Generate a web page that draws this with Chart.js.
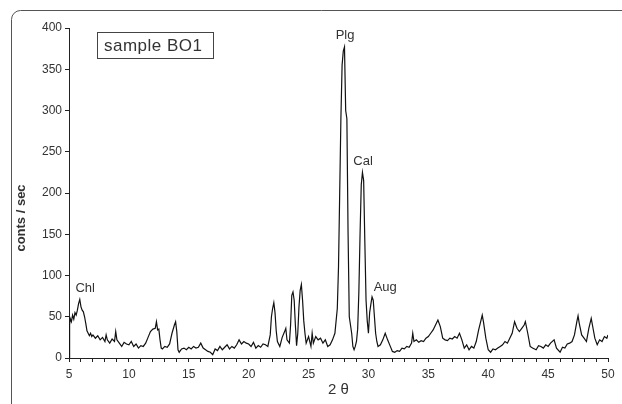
<!doctype html>
<html>
<head>
    <meta charset="UTF-8"/>
    <title>XRD sample BO1</title>
    <script src="https://cdn.jsdelivr.net/npm/chart.js@4.4.1/dist/chart.umd.min.js"></script>
</head>
<body style="margin: 0; background: #fff;">
<canvas id="myChart" width="622" height="404"></canvas>

<script>
    // 2 theta positions (degrees) and intensities
    const twoTheta = [
        5.0, 5.05, 5.1, 5.2, 5.3, 5.4, 5.5, 5.6, 5.7, 5.8, 5.9, 6.0, 6.1, 6.2, 6.3, 6.4, 6.5, 6.6, 6.7, 6.8, 6.9,
        7.0, 7.2, 7.4, 7.6, 7.8, 8.0, 8.1, 8.2, 8.4, 8.6, 8.8, 8.9, 9.0, 9.2, 9.4, 9.6, 9.8,
        10.0, 10.2, 10.4, 10.6, 10.8, 11.0, 11.2, 11.4, 11.6, 11.8, 12.0, 12.2, 12.3, 12.4, 12.5, 12.6, 12.7, 12.8,
        13.0, 13.2, 13.4, 13.6, 13.8, 13.9, 14.0, 14.1, 14.2, 14.4, 14.6, 14.8,
        15.0, 15.2, 15.4, 15.6, 15.8, 16.0, 16.2, 16.4, 16.6, 16.8, 17.0, 17.2, 17.4, 17.6, 17.8,
        18.0, 18.2, 18.4, 18.6, 18.8, 19.0, 19.2, 19.4, 19.6, 19.8, 20.0, 20.2, 20.4, 20.6, 20.8,
        21.0, 21.2, 21.4, 21.6, 21.8, 21.9, 22.0, 22.1, 22.2, 22.3, 22.4, 22.6, 22.8,
        23.0, 23.1, 23.2, 23.4, 23.5, 23.6, 23.7, 23.8, 23.9, 24.0, 24.1, 24.2, 24.3, 24.4, 24.5, 24.6, 24.7, 24.8,
        25.0, 25.2, 25.3, 25.4, 25.6, 25.8, 26.0, 26.2, 26.4, 26.6, 26.8,
        27.0, 27.2, 27.4, 27.5, 27.6, 27.7, 27.8, 27.9, 28.0, 28.1, 28.2, 28.3, 28.4, 28.5, 28.6, 28.7, 28.8, 28.9,
        29.0, 29.1, 29.2, 29.3, 29.4, 29.5, 29.6, 29.7, 29.8, 29.9, 30.0, 30.1, 30.2, 30.3, 30.4, 30.5, 30.6, 30.7, 30.8,
        31.0, 31.2, 31.4, 31.6, 31.8, 32.0, 32.2, 32.4, 32.6, 32.8, 33.0, 33.2, 33.4, 33.6, 33.7, 33.8,
        34.0, 34.2, 34.4, 34.6, 34.8, 35.0, 35.2, 35.4, 35.6, 35.8, 36.0, 36.2, 36.4, 36.6, 36.8,
        37.0, 37.2, 37.4, 37.6, 37.8, 38.0, 38.2, 38.4, 38.6, 38.8, 39.0, 39.2, 39.4, 39.5, 39.6, 39.8,
        40.0, 40.2, 40.4, 40.6, 40.8, 41.0, 41.2, 41.4, 41.6, 41.8, 42.0, 42.2, 42.4, 42.6, 42.8,
        43.0, 43.1, 43.3, 43.5, 43.7, 44.0, 44.2, 44.4, 44.6, 44.8, 45.0, 45.2, 45.5, 45.7,
        46.0, 46.2, 46.4, 46.6, 46.8, 47.0, 47.2, 47.4, 47.5, 47.6, 47.8, 48.0, 48.2, 48.4, 48.6, 48.7, 48.9,
        49.1, 49.3, 49.5, 49.7, 49.9, 50.0
    ];
    const counts = [
        0, 40, 48, 44, 52, 47, 55, 52, 58, 66, 71, 62, 58, 56, 50, 42, 33, 30, 27, 30, 26,
        28, 24, 27, 22, 25, 20, 28, 22, 18, 23, 20, 32, 22, 18, 14, 19, 17,
        16, 20, 14, 17, 12, 15, 14, 18, 25, 32, 35, 36, 44, 34, 35, 22, 12, 11,
        14, 13, 17, 30, 40, 44, 32, 10, 7, 11, 12, 10,
        13, 11, 14, 12, 13, 18, 12, 10, 8, 7, 4, 11, 9, 14, 10,
        13, 16, 11, 14, 12, 16, 22, 17, 20, 18, 17, 14, 19, 12, 15,
        13, 17, 16, 14, 28, 50, 60, 67, 55, 33, 20, 14, 25,
        32, 36, 22, 18, 40, 76, 80, 70, 40, 15, 30, 62, 82, 89, 70, 45, 30, 18,
        26, 14, 30, 18, 26, 22, 24, 18, 22, 14, 16,
        22, 30, 60, 110, 200, 290, 355, 372, 377, 300, 290, 150, 50, 40, 30, 14, 10, 14,
        20, 35, 80, 150, 210, 225, 215, 140, 70, 45, 30, 55, 65, 74, 70, 50, 30, 20, 14,
        16, 22, 30, 22, 15, 8, 7, 9, 8, 12, 11, 14, 13, 18, 30, 20,
        22, 19, 21, 20, 24, 26, 30, 34, 40, 46, 38, 24, 22, 21, 24,
        23, 26, 24, 30, 22, 12, 16, 10, 14, 12, 20, 34, 46, 52, 44, 24,
        10, 7, 11, 10, 12, 14, 16, 20, 18, 24, 30, 44, 36, 32, 36,
        40, 44, 30, 14, 12, 10, 15, 14, 12, 16, 14, 18, 22, 12,
        7, 13, 12, 17, 18, 20, 28, 44, 51, 42, 28, 24, 20, 36, 48, 40, 24,
        16, 22, 20, 26, 24, 28
    ];
    const xTicks = [5, 10, 15, 20, 25, 30, 35, 40, 45, 50];
    const yTicks = [0, 50, 100, 150, 200, 250, 300, 350, 400];
    const phaseNames = ['Chl', 'Plg', 'Cal', 'Aug'];
    const phaseAt = [6.35, 28.05, 29.55, 31.4];
    const phaseLabelY = [84, 391, 238, 85];

    const points = twoTheta.map((x, i) => ({x: x, y: counts[i]}));
    const textColor = '#333';
    const tickFont = {family: 'Liberation Sans, Arial, sans-serif', size: 12};

    // scan frame, sample box, phase labels and axis titles
    const decorations = {
        id: 'decorations',
        beforeDraw(chart) {
            const c = chart.ctx;
            c.save();
            c.strokeStyle = '#555';
            c.lineWidth = 1;
            c.beginPath();
            c.moveTo(11.5, 404);
            c.lineTo(11.5, 20);
            c.arcTo(11.5, 10.5, 21.5, 10.5, 9);
            c.lineTo(622, 10.5);
            c.stroke();
            c.restore();
        },
        afterDraw(chart) {
            const c = chart.ctx;
            const xs = chart.scales.x, ys = chart.scales.y;
            c.save();
            c.fillStyle = textColor;
            c.strokeStyle = '#444';
            c.lineWidth = 1;
            c.strokeRect(97.5, 32.5, 116, 26);
            c.font = '17px Liberation Sans, Arial, sans-serif';
            c.letterSpacing = '0.5px';
            c.textAlign = 'left';
            c.textBaseline = 'middle';
            c.fillText('sample BO1', 104, 46);
            c.letterSpacing = '0px';

            c.font = '13px Liberation Sans, Arial, sans-serif';
            c.textAlign = 'center';
            phaseNames.forEach((name, i) => {
                c.fillText(name, xs.getPixelForValue(phaseAt[i]), ys.getPixelForValue(phaseLabelY[i]));
            });

            c.font = '15px Liberation Sans, Arial, sans-serif';
            c.fillText('2 θ', (chart.chartArea.left + chart.chartArea.right) / 2, 390);

            c.translate(21, (chart.chartArea.top + chart.chartArea.bottom) / 2 + 25);
            c.rotate(-Math.PI / 2);
            c.font = 'bold 13px Liberation Sans, Arial, sans-serif';
            c.fillText('conts / sec', 0, 0);
            c.restore();
        }
    };

    var ctx = document.getElementById('myChart').getContext('2d');
    var myChart = new Chart(ctx, {
        type: 'line',
        data: {
            datasets: [{
                data       : points,
                borderColor: '#111',
                borderWidth: 1.2,
                pointRadius: 0,
                tension    : 0,
                fill       : false
            }]
        },
        options: {
            responsive: false,
            animation : false,
            layout    : {padding: {top: 28, right: 14, left: 0, bottom: 0}},
            plugins   : {legend: {display: false}, tooltip: {enabled: false}},
            scales    : {
                x: {
                    type : 'linear',
                    min  : 5,
                    max  : 50,
                    afterBuildTicks: (s) => {
                        const t = [];
                        for (let v = 5; v <= 50; v++) t.push({value: v});
                        s.ticks = t;
                    },
                    afterFit: (s) => { s.height = 46; },
                    ticks: {
                        autoSkip: false,
                        maxRotation: 0,
                        padding: 5,
                        color: textColor,
                        font: tickFont,
                        callback: (v) => xTicks.includes(v) ? String(v) : ''
                    },
                    grid  : {drawOnChartArea: false, tickLength: 4, color: '#222'},
                    border: {color: '#222', width: 1}
                },
                y: {
                    min  : 0,
                    max  : 400,
                    afterBuildTicks: (s) => { s.ticks = yTicks.map(v => ({value: v})); },
                    afterFit: (s) => { s.width = 69; },
                    ticks: {padding: 3, color: textColor, font: tickFont},
                    grid  : {drawOnChartArea: false, tickLength: 4, color: '#222'},
                    border: {color: '#222', width: 1}
                }
            }
        },
        plugins: [decorations]
    });
</script>
</body>
</html>
